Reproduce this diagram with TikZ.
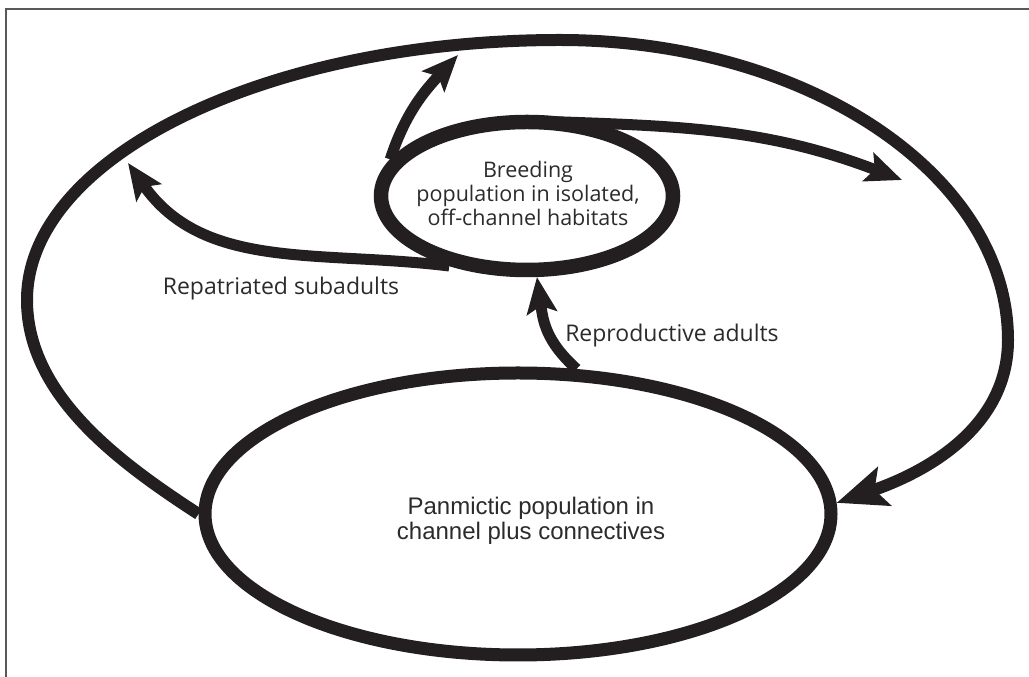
\documentclass[tikz,border=0pt]{standalone}
\usepackage{fontspec}
\setmainfont{Open Sans}
\newfontfamily\panfont{Liberation Sans}
\usetikzlibrary{shapes.geometric,arrows.meta}
\definecolor{ink}{HTML}{231F20}
\definecolor{txt}{HTML}{2B2B2B}

\begin{document}
\begin{tikzpicture}[x=1pt, y=1pt,
    pop/.style={ellipse, draw=ink, inner sep=0pt},
    lbl/.style={text=txt, font=\fontsize{23}{25}\selectfont, align=center},
    flow/.style={draw=ink, line width=11pt, -{Stealth[length=36pt, width=30pt, inset=7pt]}}]
    \useasboundingbox (0,0) rectangle (1029,677);
    \draw[line width=2.5pt, gray!70!black] (6,0) -- (6,668) -- (1029,668);
    \node[pop, line width=14.5pt, minimum width=292pt, minimum height=148pt] (breed) at (527,481) {};
    \node[pop, line width=13pt, minimum width=626pt, minimum height=282pt] (panmix) at (518,163) {};
    \node[lbl, font=\fontsize{21.5}{24}\selectfont] (breedtxt) at (528,484) {Breeding\\population in isolated,\\off-channel habitats};
    \node[lbl, font=\panfont\fontsize{24}{25}\selectfont] (panmixtxt) at (531,156) {Panmictic population in\\channel plus connectives};
    \node[lbl] (repat) at (281,388) {Repatriated subadults};
    \node[lbl] (repro) at (672,341) {Reproductive adults};
    \coordinate (subtip) at (128,514);
    \coordinate (uptip) at (458,622);
    \coordinate (righttip) at (902,497);
    \draw[flow] (panmix.68) to[out=138,in=-82,looseness=1.1] (breed.-83);
    \draw[flow] (breed.222) to[out=173,in=-55] (subtip);
    \draw[flow] (breed.165) to[out=72,in=227] (uptip);
    \draw[flow] ([yshift=-6pt]breed.north) to[out=-2,in=159] (righttip);
    \draw[line width=12pt, draw=ink, -{Stealth[length=50pt,width=40pt,inset=10pt]}] (panmix.west)
      .. controls +(147:95) and +(0,-95) .. (27,377)
      .. controls +(0,143) and +(-294,0) .. (560,637)
      .. controls +(247,0) and +(0,165) .. (1008,337)
      .. controls +(0,-90) and +(19:90) .. (panmix.2);
\end{tikzpicture}
\end{document}
